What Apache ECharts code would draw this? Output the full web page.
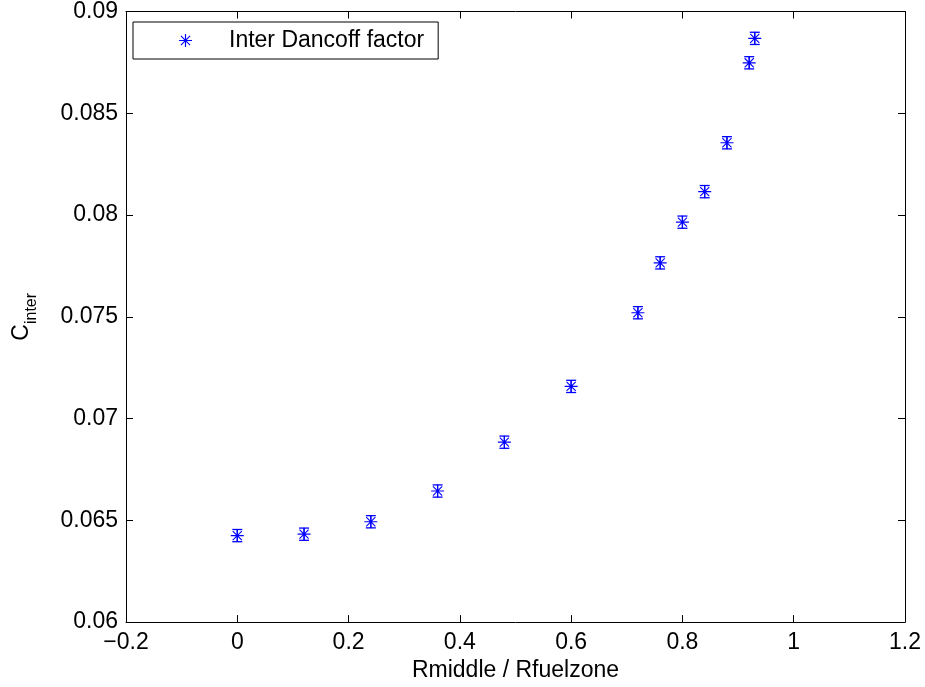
<!DOCTYPE html>
<html>
<head>
<meta charset="utf-8">
<script src="https://cdn.jsdelivr.net/npm/echarts@6/dist/echarts.min.js"></script>
<style>
  html, body { margin: 0; padding: 0; background: #fff; }
  #chart { width: 925px; height: 687px; }
</style>
</head>
<body>
<div id="chart"></div>
<script>
// data
const xValues = [0, 0.12, 0.24, 0.36, 0.48, 0.6, 0.72, 0.76, 0.8, 0.84, 0.88, 0.92, 0.93]
const yValues = [0.06425, 0.06432, 0.06493, 0.06644, 0.06884, 0.07158, 0.0752, 0.07765, 0.07965, 0.08115, 0.08355, 0.08748, 0.08868]
const errValues = [0.0003, 0.0003, 0.0003, 0.0003, 0.0003, 0.0003, 0.0003, 0.0003, 0.0003, 0.0003, 0.0003, 0.0003, 0.0003]
const xTicks = [-0.2, 0, 0.2, 0.4, 0.6, 0.8, 1, 1.2]
const xTickLabels = ['\u22120.2', '0', '0.2', '0.4', '0.6', '0.8', '1', '1.2']
const yTicks = [0.06, 0.065, 0.07, 0.075, 0.08, 0.085, 0.09]
const yTickLabels = ['0.06', '0.065', '0.07', '0.075', '0.08', '0.085', '0.09']
const seriesName = 'Inter Dancoff factor'

const BLUE = '#0000ff'
const FONT = 'Liberation Sans, Arial, Helvetica, sans-serif'
const FS = 23

// matlab style "*" marker built from thin bars (same winding so overlaps stay filled)
const asterisk = 'path://M9.1 0L10.9 0L10.9 20L9.1 20Z M0 9.1L20 9.1L20 10.9L0 10.9Z ' +
  'M2.4 3.6L3.6 2.4L17.6 16.4L16.4 17.6Z M16.4 2.4L17.6 3.6L3.6 17.6L2.4 16.4Z'

const points = xValues.map((x, i) => [x, yValues[i]])
const bars = xValues.map((x, i) => [x, yValues[i], errValues[i]])

const labelOf = (ticks, labels) => (v) => {
  const i = ticks.findIndex((t) => Math.abs(t - v) < 1e-9)
  return i < 0 ? '' : labels[i]
}

const tickStyle = { show: true, inside: true, length: 7, lineStyle: { color: '#000', width: 1 } }
const lineStyle = { show: true, onZero: false, lineStyle: { color: '#000', width: 1 } }

const chart = echarts.init(document.getElementById('chart'))
chart.setOption({
  animation: false,
  textStyle: { fontFamily: FONT },
  grid: { left: 121, right: 20, top: 11, bottom: 64, containLabel: false },
  legend: {
    data: [seriesName],
    left: 133,
    top: 22,
    orient: 'horizontal',
    padding: [6, 14, 6, 46],
    itemWidth: 13,
    itemHeight: 13,
    backgroundColor: '#fff',
    borderColor: '#000',
    borderWidth: 1,
    borderRadius: 0,
    textStyle: { color: '#000', fontSize: FS, fontFamily: FONT, lineHeight: 25, padding: [0, 0, 0, 32] },
  },
  xAxis: [
    {
      type: 'value',
      position: 'bottom',
      min: -0.2,
      max: 1.2,
      interval: 0.2,
      name: 'Rmiddle / Rfuelzone',
      nameLocation: 'middle',
      nameGap: 35,
      nameTextStyle: { color: '#000', fontSize: FS, fontFamily: FONT },
      axisLine: lineStyle,
      axisTick: tickStyle,
      splitLine: { show: false },
      axisLabel: {
        color: '#000',
        fontSize: FS,
        fontFamily: FONT,
        margin: 9,
        formatter: labelOf(xTicks, xTickLabels),
      },
    },
    {
      type: 'value',
      position: 'top',
      min: -0.2,
      max: 1.2,
      interval: 0.2,
      axisLine: lineStyle,
      axisTick: tickStyle,
      splitLine: { show: false },
      axisLabel: { show: false },
    },
  ],
  yAxis: [
    {
      type: 'value',
      position: 'left',
      min: 0.06,
      max: 0.09,
      interval: 0.005,
      name: '{c|C}{s|inter}',
      nameLocation: 'middle',
      nameGap: 86,
      nameTextStyle: {
        rich: {
          c: { fontSize: FS, fontFamily: FONT, color: '#000', lineHeight: 30, verticalAlign: 'top' },
          s: { fontSize: 16, fontFamily: FONT, color: '#000', lineHeight: 16, padding: [16, 0, 0, 0], verticalAlign: 'bottom' },
        },
      },
      axisLine: lineStyle,
      axisTick: tickStyle,
      splitLine: { show: false },
      axisLabel: {
        color: '#000',
        fontSize: FS,
        fontFamily: FONT,
        margin: 8,
        formatter: labelOf(yTicks, yTickLabels),
      },
    },
    {
      type: 'value',
      position: 'right',
      min: 0.06,
      max: 0.09,
      interval: 0.005,
      axisLine: lineStyle,
      axisTick: tickStyle,
      splitLine: { show: false },
      axisLabel: { show: false },
    },
  ],
  series: [
    {
      name: seriesName,
      type: 'scatter',
      xAxisIndex: 0,
      yAxisIndex: 0,
      symbol: asterisk,
      symbolSize: 13,
      itemStyle: { color: BLUE, opacity: 1 },
      data: points,
      z: 3,
    },
    {
      // error bars with caps
      name: 'errors',
      type: 'custom',
      xAxisIndex: 0,
      yAxisIndex: 0,
      encode: { x: 0, y: [1] },
      renderItem: (params, api) => {
        const x = api.value(0)
        const y = api.value(1)
        const e = api.value(2)
        const lo = api.coord([x, y - e])
        const hi = api.coord([x, y + e])
        const cw = 5
        const style = { stroke: BLUE, lineWidth: 1.3, fill: null }
        return {
          type: 'group',
          children: [
            { type: 'line', shape: { x1: lo[0], y1: lo[1], x2: hi[0], y2: hi[1] }, style },
            { type: 'line', shape: { x1: lo[0] - cw, y1: lo[1], x2: lo[0] + cw, y2: lo[1] }, style },
            { type: 'line', shape: { x1: hi[0] - cw, y1: hi[1], x2: hi[0] + cw, y2: hi[1] }, style },
          ],
        }
      },
      data: bars,
      z: 2,
    },
  ],
})
</script>
</body>
</html>
